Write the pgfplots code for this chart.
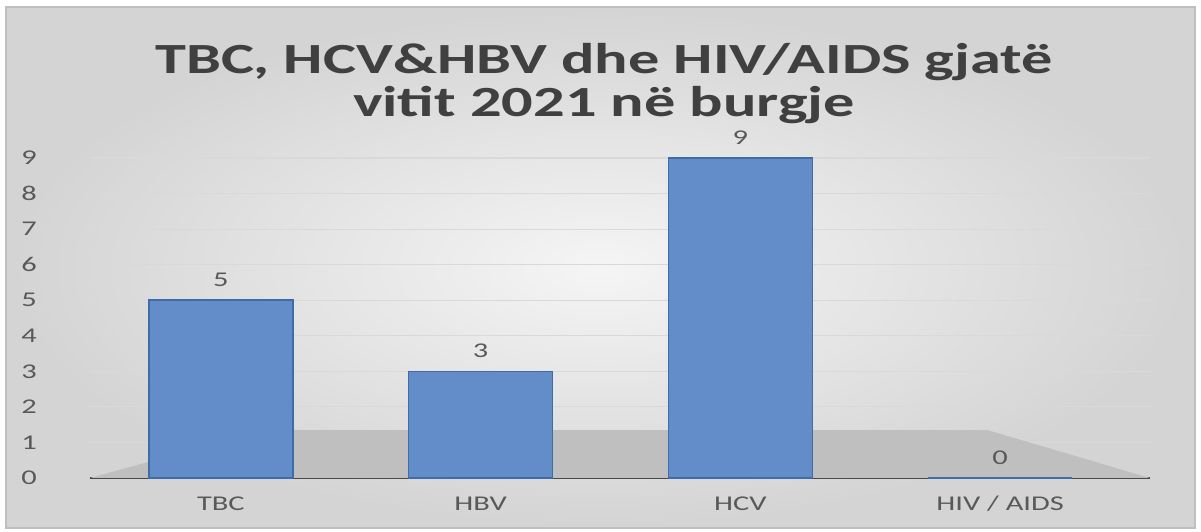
\documentclass[border=0pt]{standalone}
\usepackage{fontspec}
\setmainfont{Carlito}[FakeStretch=1.45]
\usepackage{pgfplots}
\pgfplotsset{compat=1.18}
\definecolor{barblue}{HTML}{628DC8}
\definecolor{bardark}{HTML}{3F6CA6}
\definecolor{titlegray}{HTML}{404040}
\definecolor{labgray}{HTML}{595959}
\definecolor{floorgray}{HTML}{BFBFBF}
\begin{document}
\begin{tikzpicture}[x=1pt,y=1pt]
\fill[white] (0,0) rectangle (600.5,265.5);
\shade[inner color=white!96!black, outer color=white!83!black] (3,1.5) rectangle (597.5,262);
\draw[white!75!black, line width=0.8pt] (3,1.5) rectangle (597.5,262);
\node[align=center, text=titlegray, font=\bfseries\fontsize{21.5}{21.5}\selectfont] at (302,223.5)
  {TBC, HCV\&HBV dhe HIV/AIDS gjatë\\vitit 2021 në burgje};
\begin{axis}[
  at={(45pt,26.5pt)}, anchor=south west,
  width=530pt, height=160pt, scale only axis,
  xmin=-0.504, xmax=3.577, ymin=0, ymax=9,
  ytick={0,1,...,9}, xtick={0,1,2,3},
  xticklabels={TBC,HBV,HCV,HIV / AIDS},
  axis x line=bottom, axis y line=left,
  x axis line style={draw=black!78, line width=1.3pt, -},
  y axis line style={draw=none},
  major tick length=0pt,
  ymajorgrids, grid style={white!85!black, line width=0.6pt},
  /pgf/number format/assume math mode=true,
  tick label style={font=\fontsize{10.5}{12}\selectfont, text=labgray},
  yticklabel style={anchor=center, xshift=-30.5pt},
  xticklabel style={anchor=center, yshift=-13pt},
  clip=false,
]
\fill[floorgray] (axis cs:-0.504,0) -- (axis cs:0.17,1.35) -- (axis cs:2.95,1.35) -- (axis cs:3.577,0) -- cycle;
\addplot[ybar, bar width=72pt, fill=barblue, draw=bardark, line width=0.8pt,
  nodes near coords,
  nodes near coords style={font=\fontsize{10.5}{12}\selectfont, text=labgray, yshift=3pt}]
  coordinates {(0,5) (1,3) (2,9) (3,0)};
\end{axis}
\end{tikzpicture}
\end{document}
